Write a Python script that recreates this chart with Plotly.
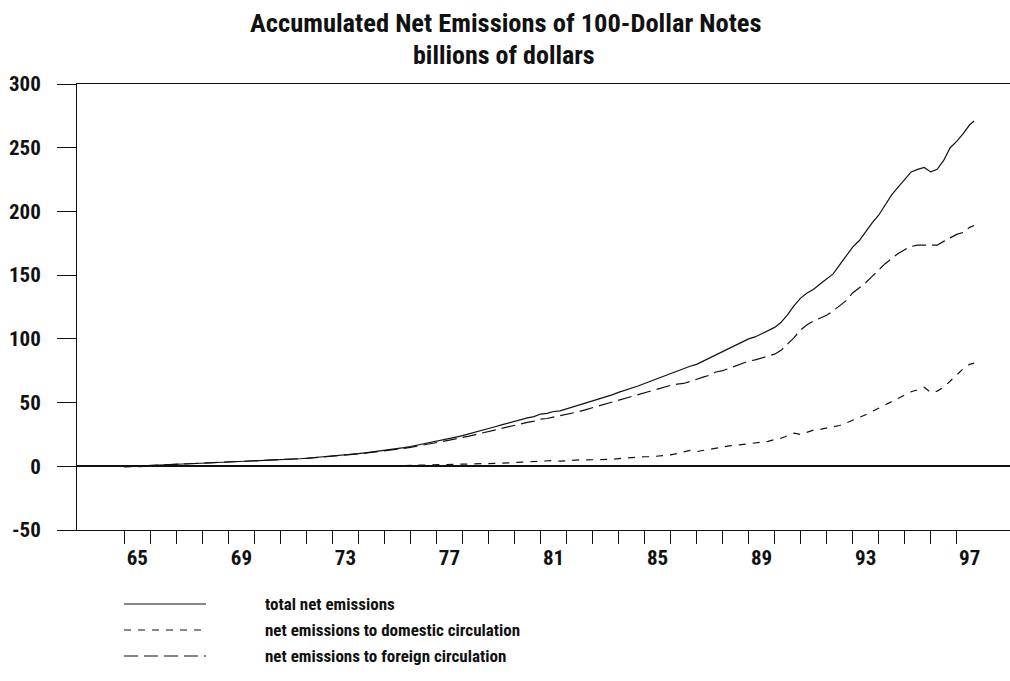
import plotly.graph_objects as go

# ---- data (billions of dollars), quarterly from 1965Q1, last point mid-1997 ----
periods = [1965 + i / 4 for i in range(131)] + [1997.67]

total = [
    -0.3, 0.0, 0.2, 0.4,      # 1965
    0.7, 0.9, 1.1, 1.3,       # 1966
    1.6, 1.8, 2.0, 2.2,       # 1967
    2.4, 2.6, 2.8, 3.0,       # 1968
    3.2, 3.4, 3.6, 3.8,       # 1969
    4.0, 4.2, 4.5, 4.7,       # 1970
    5.0, 5.3, 5.6, 5.9,       # 1971
    6.3, 6.7, 7.1, 7.5,       # 1972
    8.0, 8.5, 9.0, 9.5,       # 1973
    10.0, 10.6, 11.2, 11.8,   # 1974
    12.5, 13.2, 13.9, 14.7,   # 1975
    15.5, 16.5, 17.4, 18.4,   # 1976
    19.5, 20.6, 21.8, 22.9,   # 1977
    24.0, 25.3, 26.6, 28.0,   # 1978
    29.5, 31.0, 32.5, 34.0,   # 1979
    35.5, 36.5, 38.0, 39.0,   # 1980
    41.0, 41.5, 43.0, 43.5,   # 1981
    45.0, 46.5, 48.0, 49.5,   # 1982
    51.0, 53.0, 54.5, 56.0,   # 1983
    58.0, 59.5, 61.5, 63.0,   # 1984
    65.0, 67.0, 69.0, 70.5,   # 1985
    72.5, 74.5, 76.5, 78.5,   # 1986
    80.0, 82.5, 85.0, 87.5,   # 1987
    90.0, 92.0, 95.0, 97.5,   # 1988
    100.0, 101.5, 104.0, 106.0,  # 1989
    109.0, 113.0, 119.0, 126.0,  # 1990
    132.0, 136.0, 139.0, 143.0,  # 1991
    147.0, 151.0, 158.0, 165.0,  # 1992
    172.0, 177.0, 184.0, 191.0,  # 1993
    197.0, 205.0, 213.0, 219.0,  # 1994
    225.0, 231.0, 233.0, 234.5,  # 1995
    231.0, 233.0, 240.0, 250.0,  # 1996
    255.0, 261.0, 268.0, 271.0,  # 1997
]

foreign = [
    -0.3, 0.0, 0.2, 0.4,
    0.7, 0.9, 1.1, 1.3,
    1.6, 1.8, 2.0, 2.2,
    2.4, 2.6, 2.8, 3.0,
    3.2, 3.4, 3.6, 3.8,
    4.0, 4.2, 4.4, 4.6,
    4.9, 5.2, 5.5, 5.8,
    6.2, 6.6, 7.0, 7.4,
    7.8, 8.3, 8.8, 9.3,
    9.8, 10.3, 10.9, 11.5,
    12.1, 12.7, 13.4, 14.1,
    14.8, 15.8, 16.6, 17.6,
    18.5, 19.5, 20.6, 21.5,
    22.5, 23.7, 24.9, 26.1,
    27.5, 28.8, 30.1, 31.3,
    32.5, 33.5, 34.5, 35.5,
    37.0, 37.5, 38.5, 39.5,
    40.5, 41.5, 43.0, 44.5,
    46.0, 47.5, 49.0, 50.5,
    52.0, 53.0, 55.0, 56.0,
    57.5, 59.5, 61.0, 62.5,
    63.5, 64.5, 65.0, 66.5,
    68.5, 70.0, 71.5, 74.0,
    75.0, 77.0, 79.0, 81.0,
    82.5, 83.5, 85.0, 86.5,
    88.0, 91.0, 96.0, 101.0,
    107.0, 111.0, 114.0, 116.0,
    118.5, 122.0, 126.0, 130.0,
    136.0, 140.0, 144.0, 149.0,
    154.0, 159.0, 163.0, 167.0,
    170.0, 172.5, 173.5, 173.5,
    173.5, 173.5, 176.5, 179.5,
    182.0, 183.5, 187.5, 189.0,
]

domestic = [
    -0.3, -0.2, -0.1, 0.0,
    0.0, 0.0, 0.0, 0.0,
    0.0, 0.0, 0.0, 0.0,
    0.0, 0.0, 0.0, 0.1,
    0.1, 0.1, 0.1, 0.1,
    0.1, 0.1, 0.1, 0.1,
    0.1, 0.1, 0.1, 0.1,
    0.1, 0.1, 0.1, 0.1,
    0.2, 0.2, 0.2, 0.2,
    0.2, 0.3, 0.3, 0.3,
    0.4, 0.5, 0.5, 0.6,
    0.7, 0.7, 0.8, 0.8,
    1.0, 1.1, 1.2, 1.4,
    1.5, 1.6, 1.7, 1.9,
    2.0, 2.2, 2.4, 2.7,
    3.0, 3.0, 3.5, 3.5,
    4.0, 4.0, 4.5, 4.0,
    4.5, 5.0, 5.0, 5.0,
    5.0, 5.5, 5.5, 5.5,
    6.0, 6.5, 6.5, 7.0,
    7.5, 7.5, 8.0, 8.0,
    9.0, 10.0, 11.5, 12.5,
    11.5, 12.5, 13.5, 14.5,
    15.5, 16.0, 16.5, 17.0,
    17.5, 18.0, 19.0, 19.5,
    21.0, 22.0, 24.0, 26.0,
    25.0, 27.0, 28.5, 29.0,
    30.0, 30.5, 32.0, 34.0,
    36.0, 38.0, 40.5, 43.0,
    45.5, 48.0, 51.0, 53.0,
    56.0, 58.5, 60.0, 62.0,
    58.0, 59.0, 62.0, 67.0,
    72.0, 76.5, 80.0, 81.0,
]

year_ticks = list(range(1965, 1998))
label_positions = [1965.5, 1969.5, 1973.5, 1977.5, 1981.5, 1985.5, 1989.5, 1993.5, 1997.5]
label_text = ["65", "69", "73", "77", "81", "85", "89", "93", "97"]
y_ticks = [-50, 0, 50, 100, 150, 200, 250, 300]
y_tick_text = ["-50", "0", "50", "100", "150", "200", "250", "300"]

series_names = ["total net emissions",
                "net emissions to domestic circulation",
                "net emissions to foreign circulation"]

FONT = "Roboto Condensed, Open Sans Condensed, DejaVu Sans Condensed, sans-serif"
INK = "#111"

W, H = 1010, 681
L, R, T, B = 77, 0, 84, 151


def px_x(px):
    return (px - L) / (W - L - R)


def px_y(py):
    return (H - B - py) / (H - B - T)


DASH_FOREIGN = "14px,6px"
DASH_DOMESTIC = "7px,7px"

fig = go.Figure()
fig.add_trace(go.Scatter(x=periods, y=total, mode="lines", name=series_names[0],
                         line=dict(color=INK, width=1.2)))
fig.add_trace(go.Scatter(x=periods, y=foreign, mode="lines", name=series_names[2],
                         line=dict(color=INK, width=1.2, dash=DASH_FOREIGN)))
fig.add_trace(go.Scatter(x=periods, y=domestic, mode="lines", name=series_names[1],
                         line=dict(color=INK, width=1.2, dash=DASH_DOMESTIC)))

# manual legend below the plot
legend_rows = [(604, series_names[0], "solid"),
               (630, series_names[1], DASH_DOMESTIC),
               (656, series_names[2], DASH_FOREIGN)]
shapes = []
annotations = []
for py, name, dash in legend_rows:
    shapes.append(dict(type="line", xref="paper", yref="paper",
                       x0=px_x(124), x1=px_x(206), y0=px_y(py), y1=px_y(py),
                       line=dict(color=INK, width=1.2, dash=dash)))
    annotations.append(dict(xref="paper", yref="paper", x=px_x(263), y=px_y(py),
                            xanchor="left", yanchor="middle", showarrow=False,
                            text=name, font=dict(size=17, family=FONT, color=INK, weight="bold")))

annotations.append(dict(xref="paper", yref="paper", x=px_x(506), y=px_y(22),
                        xanchor="center", yanchor="middle", showarrow=False,
                        text="Accumulated Net Emissions of 100-Dollar Notes",
                        font=dict(size=26.5, family=FONT, color=INK, weight="bold")))
annotations.append(dict(xref="paper", yref="paper", x=px_x(504), y=px_y(55),
                        xanchor="center", yanchor="middle", showarrow=False,
                        text="billions of dollars",
                        font=dict(size=26, family=FONT, color=INK, weight="bold")))

fig.update_layout(
    width=W, height=H,
    margin=dict(l=L, r=R, t=T, b=B, pad=0),
    paper_bgcolor="white", plot_bgcolor="white",
    showlegend=False,
    font=dict(family=FONT, size=21, color=INK, weight="bold"),
    shapes=shapes, annotations=annotations,
    xaxis=dict(range=[1963.18, 1999.05], showgrid=False, zeroline=False,
               showline=True, linecolor=INK, linewidth=1, mirror=True,
               tickmode="array", tickvals=label_positions, ticktext=label_text,
               ticks="outside", ticklen=9, tickcolor="rgba(0,0,0,0)",
               ticklabelstandoff=0,
               tickfont=dict(size=21, family=FONT, color=INK, weight="bold"),
               minor=dict(tickmode="array", tickvals=year_ticks, ticks="outside",
                          ticklen=13, tickcolor=INK, tickwidth=1, showgrid=False)),
    yaxis=dict(range=[-50, 300], showgrid=False,
               zeroline=True, zerolinecolor=INK, zerolinewidth=1.5,
               showline=True, linecolor=INK, linewidth=1, mirror=False,
               tickmode="array", tickvals=y_ticks, ticktext=y_tick_text,
               ticks="outside", ticklen=19, tickcolor=INK, tickwidth=1,
               ticklabelstandoff=12,
               tickfont=dict(size=21, family=FONT, color=INK, weight="bold")),
)

fig.write_html("out.html", config={"displayModeBar": False},
               post_script="document.body.style.margin='0';")
